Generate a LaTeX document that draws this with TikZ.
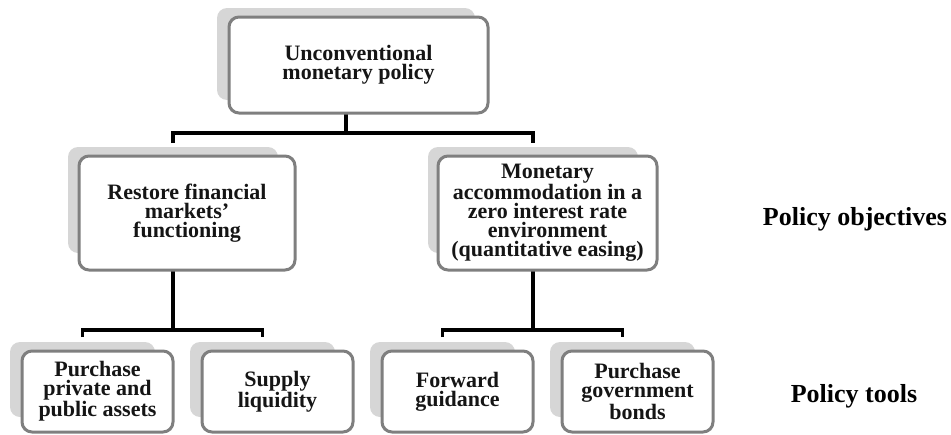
\documentclass[tikz,border=0pt]{standalone}
\usepackage{fontspec}
\setmainfont{Liberation Serif}
\definecolor{boxgray}{HTML}{7F7F7F}
\definecolor{shadegray}{HTML}{D6D6D6}
\definecolor{txt}{HTML}{151515}
\begin{document}
\begin{tikzpicture}[x=1pt,y=-1pt,
  shadebox/.style={fill=shadegray, rounded corners=10pt, inner sep=0pt, outer sep=0pt},
  box/.style={draw=boxgray, line width=3pt, fill=white, rounded corners=10pt, inner sep=0pt, align=center,
    font=\bfseries\fontsize{22}{19}\selectfont, text=txt},
  conn/.style={draw=black, line width=3.5pt},
  lab/.style={font=\bfseries\fontsize{26}{30}\selectfont, anchor=base, inner sep=0pt, text=black}]
\useasboundingbox (0,0) rectangle (951,434);
% shadows
\node[shadebox, minimum width=258pt, minimum height=92pt] (sTop) at (346,54) {};
\node[shadebox, minimum width=210pt, minimum height=106pt] (sRes) at (173,200) {};
\node[shadebox, minimum width=210pt, minimum height=106pt] (sMon) at (533,200) {};
\node[shadebox, minimum width=145pt, minimum height=75pt] (sP1) at (82.5,379.5) {};
\node[shadebox, minimum width=145pt, minimum height=75pt] (sP2) at (262.5,379.5) {};
\node[shadebox, minimum width=145pt, minimum height=75pt] (sP3) at (442.5,379.5) {};
\node[shadebox, minimum width=145pt, minimum height=75pt] (sP4) at (622.5,379.5) {};
% connectors
\coordinate (jA) at (346,133);
\coordinate (jB) at (173,330);
\coordinate (jC) at (533,330);
\draw[conn] (sTop.south) -- (jA);
\draw[conn] ([yshift=4pt]sRes.north) |- (jA) -| ([yshift=4pt]sMon.north);
\draw[conn] (sRes.south) -- (jB);
\draw[conn] ([yshift=5pt]sP1.north) |- (jB) -| ([yshift=5pt]sP2.north);
\draw[conn] (sMon.south) -- (jC);
\draw[conn] ([yshift=5pt]sP3.north) |- (jC) -| ([yshift=5pt]sP4.north);
% boxes
\node[box, minimum width=259pt, minimum height=96pt] (top) at (358.5,65) {Unconventional\\monetary policy};
\node[box, minimum width=216pt, minimum height=114pt] (res) at (187,213) {Restore financial\\markets’\\functioning};
\node[box, minimum width=219pt, minimum height=114pt] (mon) at (547.5,213) {Monetary\\accommodation in a\\zero interest rate\\environment\\(quantitative easing)};
\node[box, minimum width=151pt, minimum height=81pt] (p1) at (97.5,391.5) {Purchase\\private and\\public assets};
\node[box, minimum width=151pt, minimum height=81pt] (p2) at (277.5,391.5) {Supply\\liquidity};
\node[box, minimum width=151pt, minimum height=81pt] (p3) at (457.5,391.5) {Forward\\guidance};
\node[box, minimum width=151pt, minimum height=81pt] (p4) at (637.5,391.5) {Purchase\\government\\bonds};
% labels
\node[lab] (lobj) at (855,225) {Policy objectives};
\node[lab] (ltools) at (854,402) {Policy tools};
\end{tikzpicture}
\end{document}
